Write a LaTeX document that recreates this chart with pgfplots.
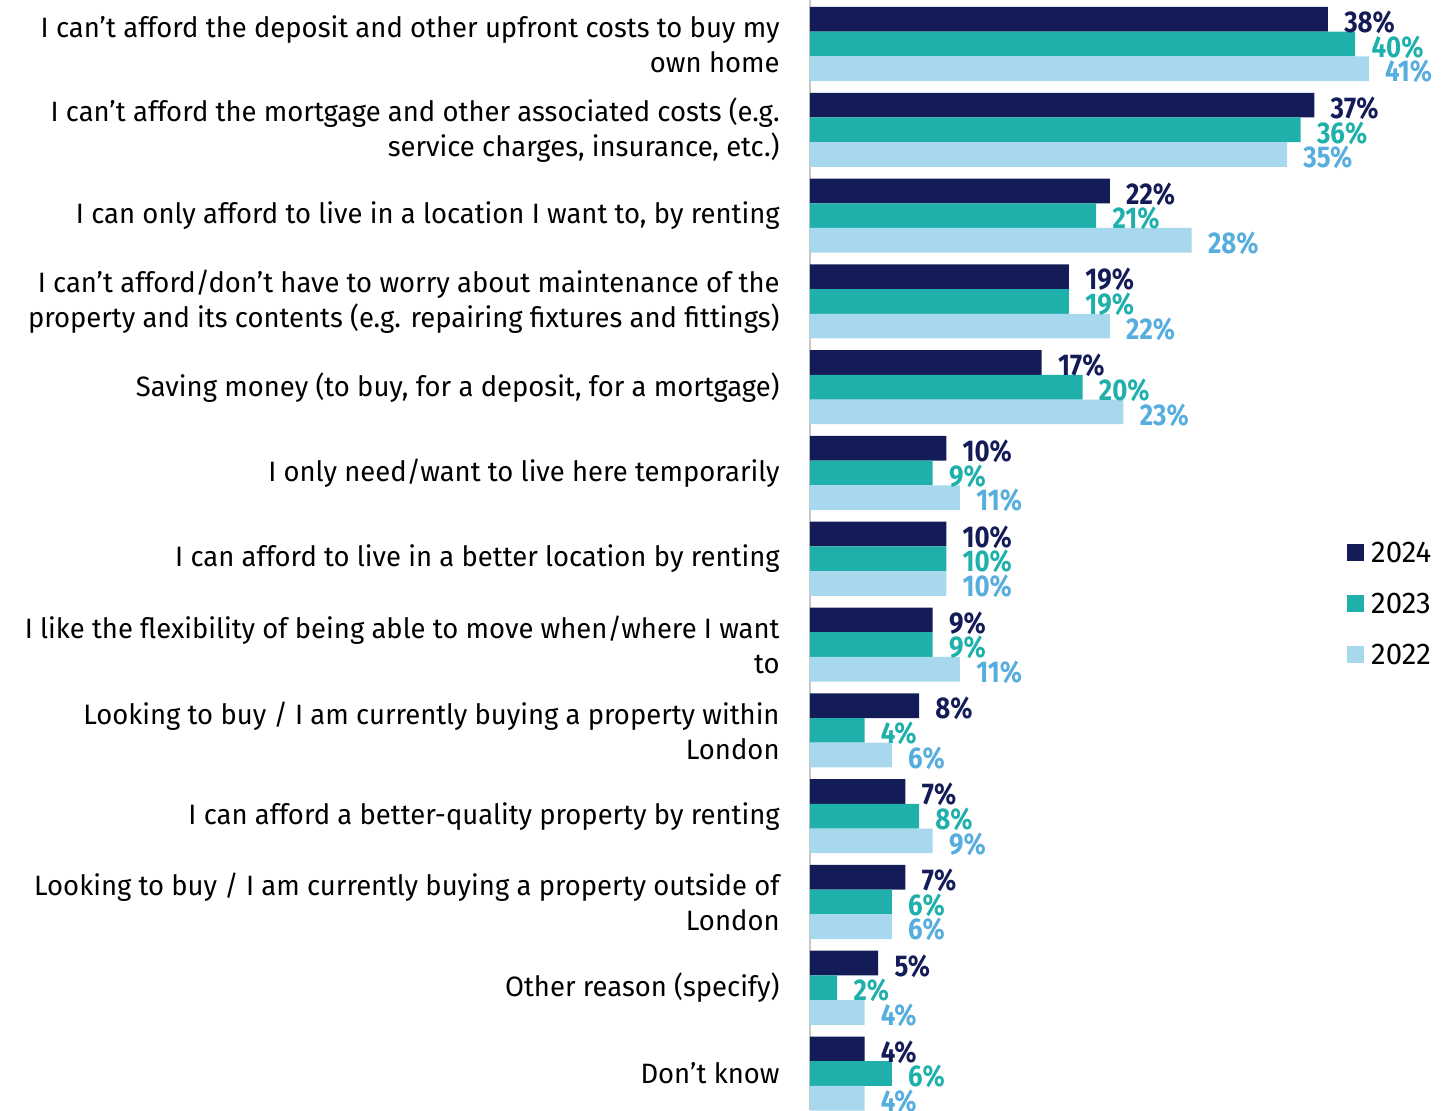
\documentclass[border=0pt]{standalone}
\usepackage{fontspec}
\setmainfont{Fira Sans}[FakeStretch=0.98, BoldFeatures={FakeStretch=0.86}]
\usepackage{pgfplots}
\pgfplotsset{compat=1.18}
\definecolor{navy}{RGB}{20,28,88}
\definecolor{tealc}{RGB}{31,176,172}
\definecolor{lightb}{RGB}{168,216,237}
\definecolor{labelb}{RGB}{87,173,222}
\newcommand{\lblfont}{\fontsize{14pt}{17.5pt}\selectfont}
\newcommand{\valfont}{\fontsize{15pt}{17.5pt}\selectfont\bfseries}
\begin{document}
\begin{tikzpicture}
\begin{axis}[
  at={(0,0)}, anchor=south west,
  xbar, y dir=reverse,
  scale only axis, width=320.3pt, height=555pt,
  xmin=0, xmax=47, ymin=-0.513, ymax=12.425,
  bar width=12.35pt,
  axis x line=none,
  axis y line*=left,
  y axis line style={draw=black!22, line width=1pt, -},
  ytick={0,...,12}, major tick length=0pt,
  yticklabels={
    {I can’t afford the deposit and other upfront costs to buy my\\own home},
    {I can’t afford the mortgage and other associated costs (e.g.\\service charges, insurance, etc.)},
    {I can only afford to live in a location I want to, by renting},
    {I can’t afford/don’t have to worry about maintenance of the\\property and its contents (e.g. repairing fixtures and fittings)},
    {Saving money (to buy, for a deposit, for a mortgage)},
    {I only need/want to live here temporarily},
    {I can afford to live in a better location by renting},
    {I like the flexibility of being able to move when/where I want\\to},
    {Looking to buy / I am currently buying a property within\\London},
    {I can afford a better-quality property by renting},
    {Looking to buy / I am currently buying a property outside of\\London},
    {Other reason (specify)},
    {Don’t know}},
  yticklabel style={align=right, font=\lblfont, inner sep=0pt, xshift=-15pt},
  /pgf/number format/assume math mode=true,
  nodes near coords={\pgfmathprintnumber{\pgfplotspointmeta}\%},
  nodes near coords style={font=\valfont, anchor=west, inner sep=0pt,
    xshift=8pt, yshift=-1.5pt},
  legend image code/.code={\fill[#1] (0pt,-4.25pt) rectangle (8.5pt,4.25pt);},
  legend style={at={(0.838,0.456)}, anchor=west, draw=none, fill=none,
    inner sep=0pt, row sep=15.5pt, column sep=3.5pt,
    font=\fontsize{15pt}{18pt}\selectfont,
    nodes={inner sep=0pt, text height=10pt, text depth=0pt}},
  legend cell align=left,
]
\addplot[fill=navy, draw=none, bar shift=12.35pt,
  every node near coord/.append style={text=navy}] coordinates {
  (38,0) (37,1) (22,2) (19,3) (17,4) (10,5) (10,6)
  (9,7) (8,8) (7,9) (7,10) (5,11) (4,12)};
\addplot[fill=tealc, draw=none, bar shift=0pt,
  every node near coord/.append style={text=tealc}] coordinates {
  (40,0) (36,1) (21,2) (19,3) (20,4) (9,5) (10,6)
  (9,7) (4,8) (8,9) (6,10) (2,11) (6,12)};
\addplot[fill=lightb, draw=none, bar shift=-12.35pt,
  every node near coord/.append style={text=labelb}] coordinates {
  (41,0) (35,1) (28,2) (22,3) (23,4) (11,5) (10,6)
  (11,7) (6,8) (9,9) (6,10) (4,11) (4,12)};
\legend{2024,2023,2022}
\end{axis}
\pgfresetboundingbox
\path[use as bounding box] (-405pt,0pt) rectangle (321.5pt,555pt);
\end{tikzpicture}
\end{document}
